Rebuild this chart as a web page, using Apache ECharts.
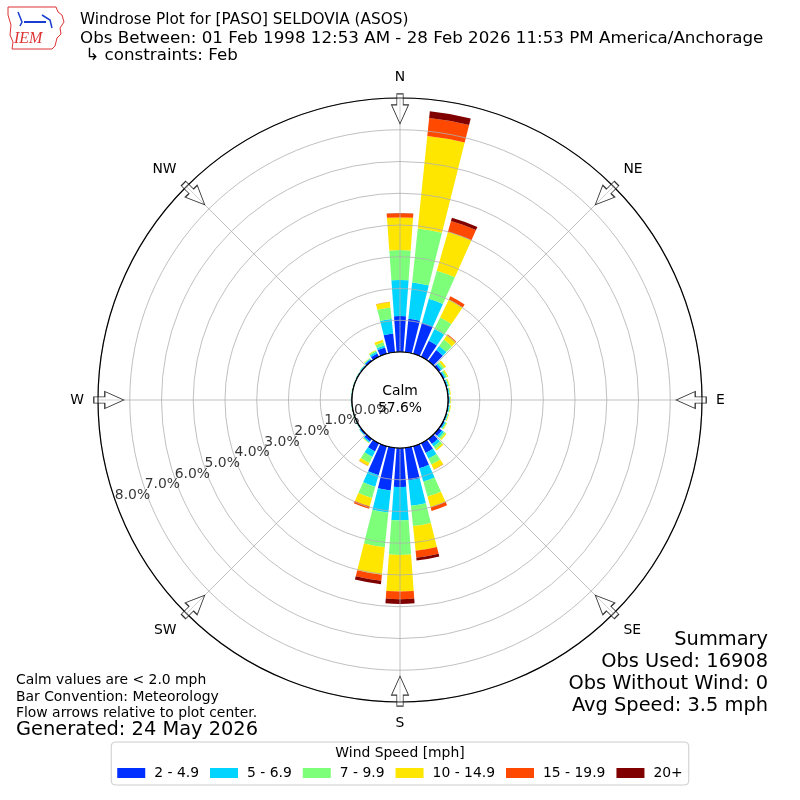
<!DOCTYPE html>
<html><head><meta charset="utf-8">
<script src="https://cdn.jsdelivr.net/npm/echarts@6/dist/echarts.min.js"></script>
<style>html,body{margin:0;padding:0;background:#fff}#c{width:800px;height:800px}</style>
</head><body><div id="c"></div>
<script>
// ---- data (percent of observations, by direction bin of 10 degrees) ----
const bearings = [0,10,20,30,40,50,60,70,80,90,100,110,120,130,140,150,160,170,180,190,200,210,220,230,240,250,260,270,280,290,300,310,320,330,340,350];
const speedBins = ['2 - 4.9','5 - 6.9','7 - 9.9','10 - 14.9','15 - 19.9','20+'];
const binColors = ['#0030ff','#00d4ff','#7dff7a','#ffe600','#ff4800','#800000'];
const bin2to5   = [1.13,1.06,1.02,0.56,0.43,0.08,0.05,0.04,0.03,0.03,0.03,0.03,0.05,0.12,0.20,0.34,0.72,1.03,1.23,1.35,0.95,0.29,0.10,0.05,0.03,0.02,0.02,0.02,0.02,0.02,0.03,0.03,0.06,0.12,0.21,0.59];
const bin5to7   = [1.14,1.15,0.78,0.41,0.16,0.06,0.04,0.03,0.03,0.03,0.03,0.03,0.04,0.08,0.10,0.20,0.44,0.81,1.05,0.70,0.38,0.19,0.04,0.02,0.01,0.01,0.01,0.01,0.01,0.01,0.01,0.02,0.03,0.06,0.06,0.46];
const bin7to10  = [0.94,1.71,0.92,0.41,0.25,0.07,0.05,0.03,0.02,0.02,0.02,0.02,0.03,0.06,0.10,0.21,0.49,0.64,1.09,1.10,0.37,0.21,0.02,0.01,0.01,0.01,0.01,0.01,0.01,0.01,0.01,0.01,0.02,0.04,0.11,0.37];
const bin10to15 = [1.03,2.93,1.28,0.63,0.18,0.07,0.04,0.02,0.02,0.02,0.02,0.02,0.02,0.04,0.05,0.17,0.35,0.78,1.15,0.87,0.27,0.10,0.01,0,0,0,0,0,0,0,0,0,0.01,0.02,0.08,0.17];
const bin15to20 = [0.13,0.57,0.35,0.11,0.02,0,0,0,0,0,0,0,0,0,0,0.01,0.12,0.22,0.24,0.19,0.08,0.01,0,0,0,0,0,0,0,0,0,0,0,0,0,0.01];
const bin20plus = [0.01,0.21,0.11,0,0,0,0,0,0,0,0,0,0,0,0,0,0,0.09,0.15,0.11,0,0,0,0,0,0,0,0,0,0,0,0,0,0,0,0];
const calmPct = 57.6;
const radialTicks = [0,1,2,3,4,5,6,7,8];
const compassLabels = ['N','NE','E','SE','S','SW','W','NW'];
const arrowBearings = [0,45,90,135,180,225,270,315];

const binValues = [bin2to5, bin5to7, bin7to10, bin10to15, bin15to20, bin20plus];
const FONT = '"DejaVu Sans", sans-serif';
const chart = echarts.init(document.getElementById('c'));

const barSeries = speedBins.map((name, i) => ({
  name, type: 'bar', coordinateSystem: 'polar', polarIndex: 0, stack: 'wind',
  data: binValues[i], barCategoryGap: '18%', z: 2,
  itemStyle: { color: binColors[i] }, silent: true
}));

const arrowPath = 'path://M5,0 L11,0 L11,11 L16,11 L8,30 L0,11 L5,11 Z';

function txt(x, y, text, size, align) {
  return { type: 'text', silent: true, style: { x, y, text, fill: '#000', font: size + 'px ' + FONT, textAlign: align || 'left', textVerticalAlign: 'middle' } };
}

chart.setOption({
  animation: false,
  backgroundColor: '#fff',
  polar: [
    { center: ['50%', '50%'], radius: [48, 302] },
    { center: ['50%', '50%'], radius: [48, 302] },
    { center: ['50%', '50%'], radius: [30, 284] }
  ],
  angleAxis: [
    { polarIndex: 0, type: 'category', data: bearings, startAngle: 95, clockwise: true, show: false },
    { polarIndex: 1, type: 'value', min: 0, max: 360, interval: 45, startAngle: 90, clockwise: true, z: 5,
      axisLine: { lineStyle: { color: '#000', width: 1.2 } },
      axisTick: { show: false },
      axisLabel: { margin: 14, color: '#000', fontSize: 13.9, fontFamily: FONT,
        formatter: v => (v >= 360 ? '' : compassLabels[Math.round(v / 45)]) },
      splitLine: { show: true, lineStyle: { color: '#b0b0b0', width: 0.8 } } },
    { polarIndex: 2, type: 'value', min: 0, max: 360, startAngle: 199.6, clockwise: true, show: false }
  ],
  radiusAxis: [
    { polarIndex: 0, type: 'value', min: 0, max: 8, show: false },
    { polarIndex: 1, type: 'value', min: 0, max: 8, interval: 1, z: 5,
      axisLine: { show: false }, axisTick: { show: false }, axisLabel: { show: false },
      splitLine: { show: true, lineStyle: { color: '#b0b0b0', width: 0.8 } } },
    { polarIndex: 2, type: 'value', min: 0, max: 8, show: false }
  ],
  legend: {
    data: speedBins, top: 742, left: 'center', icon: 'rect', itemWidth: 28, itemHeight: 10, itemGap: 11,
    padding: [24, 6, 5, 6], borderColor: '#cccccc', borderWidth: 1, borderRadius: 4,
    textStyle: { color: '#000', fontSize: 13.9, fontFamily: FONT, padding: [0, 0, 0, 4] },
    selectedMode: false
  },
  series: [
    ...barSeries,
    { type: 'scatter', coordinateSystem: 'polar', polarIndex: 1, z: 8, silent: true,
      symbol: arrowPath, symbolSize: [17, 30], symbolKeepAspect: false,
      itemStyle: { color: 'rgba(255,255,255,0.35)', borderColor: '#000', borderWidth: 1 },
      data: arrowBearings.map(b => ({ value: [7.66, b], symbolRotate: -b })) },
    { type: 'scatter', coordinateSystem: 'polar', polarIndex: 2, z: 30, silent: true,
      symbol: 'circle', symbolSize: 1, itemStyle: { color: 'rgba(0,0,0,0)' },
      label: { show: true, position: 'inside', color: '#000', fontSize: 13.9, fontFamily: FONT,
        textBorderWidth: 0, textBorderColor: 'transparent',
        formatter: p => p.value[0].toFixed(1) + '%' },
      data: radialTicks.map(v => [v, 0]) },
    { type: 'pie', radius: [0, 48], center: ['50%', '50%'], z: 20, silent: true,
      label: { show: true, position: 'center', formatter: 'Calm\n' + calmPct.toFixed(1) + '%', color: '#000', fontSize: 13.9, fontFamily: FONT, lineHeight: 17 },
      labelLine: { show: false }, emphasis: { disabled: true },
      itemStyle: { color: '#fff', borderColor: '#000', borderWidth: 1.2 },
      data: [{ value: 1, name: 'Calm' }] }
  ],
  graphic: [
    { type: 'polygon', silent: true, shape: { points: [[8,7],[56,7],[58,12],[62,15],[64,22],[60,28],[61,34],[57,38],[55,46],[52,49],[12,49],[13,42],[10,35],[11,25],[8,15]] },
      style: { fill: '#fff', stroke: '#d33', lineWidth: 1 } },
    { type: 'polyline', silent: true, shape: { points: [[24,22],[46,22]] }, style: { stroke: '#1a3fd0', lineWidth: 2 } },
    { type: 'polyline', silent: true, shape: { points: [[18,12],[22,22],[20,26]] }, style: { stroke: '#1a3fd0', lineWidth: 1.5 } },
    { type: 'polyline', silent: true, shape: { points: [[42,15],[50,20],[52,28]] }, style: { stroke: '#1a3fd0', lineWidth: 1.5 } },
    { type: 'text', silent: true, style: { x: 14, y: 39, text: 'IEM', fill: '#d33', font: 'italic 16px "Liberation Serif", serif', textVerticalAlign: 'middle' } },
    txt(80, 20, 'Windrose Plot for [PASO] SELDOVIA (ASOS)', 15.3),
    txt(80, 38.5, 'Obs Between: 01 Feb 1998 12:53 AM - 28 Feb 2026 11:53 PM America/Anchorage', 16.7),
    txt(80, 56, ' \u21b3 constraints: Feb', 16.7),
    txt(768, 640, 'Summary', 19.4, 'right'),
    txt(768, 662, 'Obs Used: 16908', 19.4, 'right'),
    txt(768, 684, 'Obs Without Wind: 0', 19.4, 'right'),
    txt(768, 706, 'Avg Speed: 3.5 mph', 19.4, 'right'),
    txt(16, 680, 'Calm values are < 2.0 mph', 13.9),
    txt(16, 697, 'Bar Convention: Meteorology', 13.9),
    txt(16, 713, 'Flow arrows relative to plot center.', 13.9),
    txt(16, 730, 'Generated: 24 May 2026', 19.4),
    txt(400, 753, 'Wind Speed [mph]', 13.9, 'center')
  ]
});
</script></body></html>
